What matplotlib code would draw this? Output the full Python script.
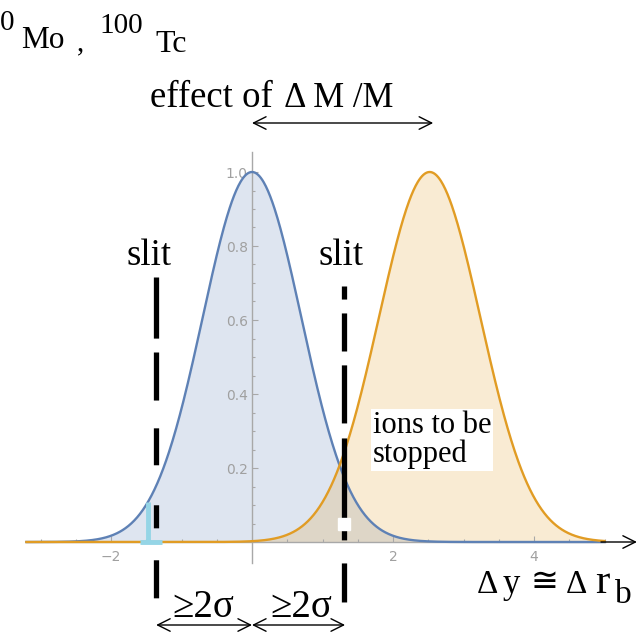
import numpy as np
import matplotlib
matplotlib.use("Agg")
import matplotlib.pyplot as plt
from matplotlib.patches import FancyArrowPatch

plt.rcParams['lines.scale_dashes'] = False

# ---- data ----
centers = [0.0, 2.52]          # peak positions of the two distributions
sigmas = [0.70, 0.72]          # widths
amplitudes = [1.0, 1.0]
x_range = [-3.2, 5.0]
slit_x = [-1.36, 1.30]
xtick_vals = [-2, 2, 4]
xtick_labels = ['\u22122', '2', '4']
ytick_vals = [0.2, 0.4, 0.6, 0.8, 1.0]
ytick_labels = ['0.2', '0.4', '0.6', '0.8', '1.0']
marker_x = -1.47               # light-blue mark at the left tail

line_colors = ['#5E81B5', '#E19C24']
SERIF = ['Liberation Serif', 'DejaVu Serif', 'DejaVu Sans']

W, H = 639, 632
fig = plt.figure(figsize=(W / 100, H / 100), dpi=100)
ax = fig.add_axes([0, 0, 1, 1])
x0px, unit_x = 252.0, 70.5
y0px, unit_y = 542.0, 370.0
ax.set_xlim(-x0px / unit_x, (W - x0px) / unit_x)
ax.set_ylim((y0px - H) / unit_y, y0px / unit_y)


def P(xp, yp):
    return xp / W, 1 - yp / H


x = np.linspace(x_range[0], x_range[1], 800)
for c, s, a, col in zip(centers, sigmas, amplitudes, line_colors):
    y = a * np.exp(-(x - c) ** 2 / (2 * s ** 2))
    ax.fill_between(x, 0, y, color=col, alpha=0.2, lw=0, zorder=1)
    ax.plot(x, y, color=col, lw=1.7, zorder=3)

# axes styling
gray = '#a8a8a8'
for sp in ['top', 'right']:
    ax.spines[sp].set_visible(False)
ax.spines['left'].set_position(('data', 0))
ax.spines['bottom'].set_position(('data', 0))
ax.spines['left'].set_bounds(-0.056, 1.054)
ax.spines['bottom'].set_bounds(x_range[0], x_range[1])
for sp in ['left', 'bottom']:
    ax.spines[sp].set_color(gray)
    ax.spines[sp].set_linewidth(1.0)
    ax.spines[sp].set_zorder(2)
ax.set_xticks(xtick_vals)
ax.set_xticklabels(xtick_labels)
ax.set_xticks([v for v in np.arange(-3, 5.01, 0.5) if v not in xtick_vals and v != 0], minor=True)
ax.set_yticks(ytick_vals)
ax.set_yticklabels(ytick_labels)
ax.set_yticks([v for v in np.arange(0.05, 1.01, 0.05) if round(v, 2) not in ytick_vals], minor=True)
ax.tick_params(which='both', direction='in', color=gray, width=0.8,
               labelcolor='#a0a0a0', labelsize=10)
ax.tick_params(which='major', length=4)
ax.tick_params(which='minor', length=2.5)
ax.tick_params(axis='x', pad=6)
ax.tick_params(axis='y', pad=3)

# x-axis arrow
ax.annotate('', xy=(5.46, 0), xytext=(4.95, 0),
            arrowprops=dict(arrowstyle='->,head_length=0.9,head_width=0.45',
                            color='black', lw=1.0, shrinkA=0, shrinkB=0), zorder=4)

# light-blue marker
ax.plot([marker_x, marker_x], [0, 0.108], color='#95d5e6', lw=3.5, zorder=4, solid_capstyle='butt')
ax.plot([marker_x - 0.12, marker_x + 0.2], [0, 0], color='#95d5e6', lw=3.5, zorder=4, solid_capstyle='butt')

# slits (dashed thick lines)
left_dash = (0, (44, 10, 34.6, 20, 26.6, 28.8, 16.6, 23, 27.4, 40))
right_dash = (0, (9.4, 10, 27.4, 10, 41.8, 10.8, 73.4, 16.6, 28.1, 40))
ax.plot([slit_x[0], slit_x[0]], [0.716, -0.151], color='black', lw=3.8,
        linestyle=left_dash, zorder=5)
ax.plot([slit_x[1], slit_x[1]], [0.692, -0.162], color='black', lw=3.8,
        linestyle=right_dash, zorder=5)
ax.plot([slit_x[1]], [0.049], marker='s', ms=8, color='white', mec='white', zorder=6)

# arrows
def darrow(xa, xb, y):
    ar = FancyArrowPatch((xa, y), (xb, y), arrowstyle='<->,head_length=0.9,head_width=0.45',
                         mutation_scale=10, color='black', lw=1.0, shrinkA=0, shrinkB=0, zorder=6)
    ax.add_patch(ar)

darrow(centers[0], centers[1] + 0.05, (y0px - 123) / unit_y)
darrow(slit_x[0], centers[0], (y0px - 625) / unit_y)
darrow(centers[0], slit_x[1] + 0.02, (y0px - 625) / unit_y)

# texts
def T(xp, yp, s, size, **kw):
    fig.text(*P(xp, yp), s, fontsize=size, family=SERIF, ha='left', va='baseline', **kw)

T(0, 30, '0', 21)
T(21, 48, 'Mo', 22.5)
T(77, 50, ',', 21)
T(99, 33, '100', 21)
T(155, 52, 'Tc', 23)
T(150, 107, 'effect of', 26.5)
T(284, 107, '\u0394 M /M', 25)
T(127, 265, 'slit', 26.5)
T(319, 265, 'slit', 26.5)
fig.text(*P(373, 462), 'ions to be\nstopped', fontsize=22, family=SERIF, ha='left',
         va='baseline', linespacing=0.98,
         bbox=dict(boxstyle='square,pad=0.05', fc='white', ec='none'), zorder=7)
T(172, 617, '\u22652\u03c3', 28)
T(270, 617, '\u22652\u03c3', 28)
T(477, 593, '\u0394', 24)
T(503, 593, 'y', 25)
T(531, 591, '\u2245', 24)
T(566, 593, '\u0394', 24)
T(595, 593, 'r', 31)
T(615, 603, 'b', 24)

fig.savefig('out.png', dpi=100)
